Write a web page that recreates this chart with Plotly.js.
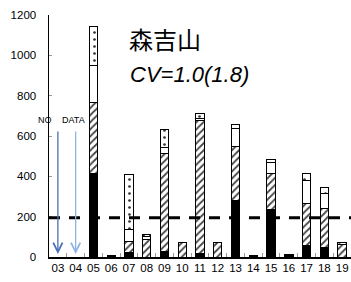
<!DOCTYPE html>
<html>
<head>
<meta charset="utf-8">
<script src="https://cdn.plot.ly/plotly-3.0.1.min.js"></script>
<style>
html,body{margin:0;padding:0;background:#fff;overflow:hidden;}
#chart{width:351px;height:282px;}
</style>
</head>
<body>
<div id="chart"></div>
<script>
const years = ['03','04','05','06','07','08','09','10','11','12','13','14','15','16','17','18','19'];
const blackSeg   = [null,null,415,5,20,null,26,null,18,null,279,5,237,13,55,46,null];
const hatchedSeg = [null,null,350,null,59,89,489,71,657,73,268,null,175,null,211,196,63];
const whiteSeg   = [null,null,187,null,55,12,27,null,10,null,92,null,58,null,111,71,null];
const dottedSeg  = [null,null,190,null,273,13,88,null,25,null,16,null,15,null,35,31,8];
const threshold = 195;
const noDataYears = ['03','04'];
const arrowTop = 630;
const arrowBottom = 15;
const titleText = '森吉山';
const cvText = 'CV=1.0(1.8)';
const yTicks = [0,200,400,600,800,1000,1200];

const outline = {color:'#000', width:1};
const traces = [
  {type:'bar', x:years, y:blackSeg, marker:{color:'#000', line:outline}, hoverinfo:'skip'},
  {type:'bar', x:years, y:hatchedSeg, marker:{color:'#fff', line:outline,
     pattern:{shape:'/', fgcolor:'#444', bgcolor:'#fff', size:5, solidity:0.35}}, hoverinfo:'skip'},
  {type:'bar', x:years, y:whiteSeg, marker:{color:'#fff', line:outline}, hoverinfo:'skip'},
  {type:'bar', x:years, y:dottedSeg, marker:{color:'#fff', line:outline,
     pattern:{shape:'.', fgcolor:'#333', bgcolor:'#fff', size:7, solidity:0.12}}, hoverinfo:'skip'}
];

const arrowColors = ['#4a70b5','#8fb4e3'];
const annotations = noDataYears.map((yr,i)=>{
  const idx = years.indexOf(yr);
  return {
    x: idx, y: arrowBottom, ax: idx, ay: arrowTop, xref:'x', yref:'y', axref:'x', ayref:'y',
    text:'', showarrow:true, arrowhead:5, arrowsize:1.4, arrowwidth:1.3, arrowcolor:arrowColors[i]
  };
});
annotations.push(
  {xref:'paper', yref:'paper', x:(44.5-49)/302, y:(257-120)/242, text:'NO', showarrow:false,
   xanchor:'center', yanchor:'middle', font:{family:'Liberation Sans, Arial', size:9, color:'#000'}},
  {xref:'paper', yref:'paper', x:(73-49)/302, y:(257-120)/242, text:'DATA', showarrow:false,
   xanchor:'center', yanchor:'middle', font:{family:'Liberation Sans, Arial', size:9, color:'#000'}},
  {xref:'paper', yref:'paper', x:(127-49)/302, y:(257-38)/242, text:titleText, showarrow:false,
   xanchor:'left', yanchor:'middle', font:{family:'Noto Sans CJK JP', size:24, color:'#000'}},
  {xref:'paper', yref:'paper', x:(128-49)/302, y:(257-75)/242, text:cvText, showarrow:false,
   xanchor:'left', yanchor:'middle', font:{family:'Liberation Sans, Arial', size:22, color:'#000', style:'italic'}}
);

const layout = {
  width:351, height:282,
  margin:{l:49, r:0, t:15, b:25},
  paper_bgcolor:'#fff', plot_bgcolor:'#fff',
  barmode:'stack', bargap:0.53,
  showlegend:false,
  xaxis:{type:'category', showline:true, linecolor:'#000', linewidth:1.5,
    ticks:'inside', tickson:'boundaries', ticklen:4, tickcolor:'#999', tickwidth:1, tickangle:0,
    tickfont:{family:'Liberation Sans, Arial', size:11.5, color:'#000'}, showgrid:false, zeroline:false,
    fixedrange:true},
  yaxis:{range:[0,1200], tickvals:yTicks, showline:true, linecolor:'#000', linewidth:1.5,
    ticks:'inside', ticklen:3, tickcolor:'#999', tickwidth:1, ticklabelstandoff:9,
    tickfont:{family:'Liberation Sans, Arial', size:11.5, color:'#000'}, showgrid:false, zeroline:false,
    fixedrange:true},
  shapes:[{type:'line', xref:'paper', yref:'y', x0:0, x1:1, y0:threshold, y1:threshold,
    line:{color:'#000', width:3, dash:'11px,9px'}, layer:'above'}],
  annotations:annotations
};

Plotly.newPlot('chart', traces, layout, {staticPlot:true, displayModeBar:false});
</script>
</body>
</html>
